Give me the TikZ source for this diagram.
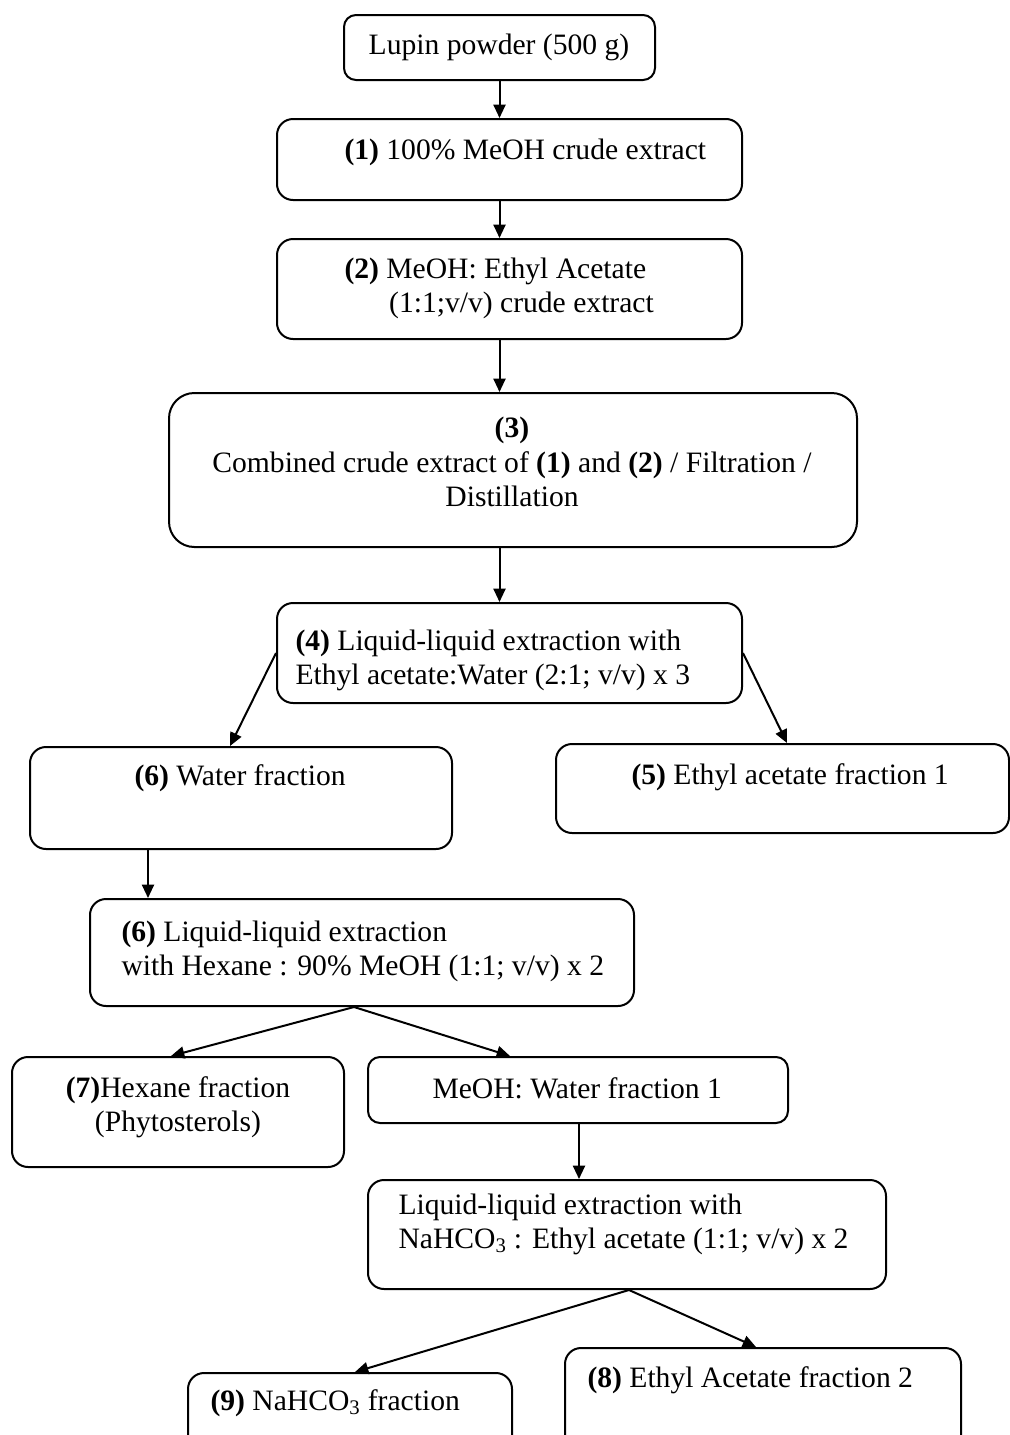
\documentclass[tikz,border=0pt]{standalone}
\usepackage{fontspec}
\setmainfont{Liberation Serif}
\usetikzlibrary{arrows.meta}

\tikzset{every picture/.style={line width=0.75pt}}
\tikzset{
  box/.style={draw, rounded corners=12pt, line width=1.5pt, inner sep=0pt},
  sz/.style 2 args={minimum width=#1*0.75pt, minimum height=#2*0.75pt},
  txt/.style={inner sep=0pt, font=\fontsize{22.2pt}{25.6pt}\selectfont},
  flow/.style={line width=1.5pt, -{Triangle[length=10pt,width=9pt]}}
}

\begin{document}
\begin{tikzpicture}[x=0.75pt,y=0.75pt,yscale=-1,xscale=1]
\useasboundingbox (0,0) rectangle (1010,1435);

%Rounded Rect: boxes
\node[box, sz={311}{65}, rounded corners=9pt] (lupin) at (499.5,47.5) {};
\node[box, sz={465}{81}] (ext1) at (509.5,159.5) {};
\node[box, sz={465}{100}] (ext2) at (509.5,289) {};
\node[box, sz={688}{154}, rounded corners=19pt] (comb) at (513,470) {};
\node[box, sz={465}{100}] (lle1) at (509.5,653) {};
\node[box, sz={422}{102}] (water) at (241,798) {};
\node[box, sz={453}{89}] (etac1) at (782.5,788.5) {};
\node[box, sz={544}{107}] (lle2) at (362,952.5) {};
\node[box, sz={332}{110}] (hex) at (178,1112) {};
\node[box, sz={420}{66}, rounded corners=9pt] (mewat) at (578,1090) {};
\node[box, sz={518}{109}] (lle3) at (627,1234.5) {};
\node[box, sz={324}{110}] (nahco) at (350,1428) {};
\node[box, sz={396}{110}] (etac2) at (763,1403) {};

%Text Node
\node[txt] (lupin-t) at (499,47) {Lupin powder (500 g)};
\node[txt, anchor=west] (ext1-t) at (344,152) {\textbf{(1)} 100\% MeOH crude extract};
\node[txt, anchor=west, align=left] (ext2-t) at (344,288.5) {\textbf{(2)} MeOH: Ethyl Acetate\\\hspace*{33.5pt}(1:1;v/v) crude extract};
\node[txt, align=center] (comb-t) at (512,462) {\textbf{(3)}\\Combined crude extract of \textbf{(1)} and \textbf{(2)} / Filtration /\\Distillation};
\node[txt, anchor=west, align=left] (lle1-t) at (295,660) {\textbf{(4)} Liquid-liquid extraction with\\Ethyl acetate:Water (2:1; v/v) x 3};
\node[txt, anchor=west] (water-t) at (134,778) {\textbf{(6)} Water fraction};
\node[txt, anchor=west] (etac1-t) at (631,777) {\textbf{(5)} Ethyl acetate fraction 1};
\node[txt, anchor=west, align=left] (lle2-t) at (121,951.5) {\textbf{(6)} Liquid-liquid extraction\\with Hexane : 90\% MeOH (1:1; v/v) x 2};
\node[txt, align=center] (hex-t) at (178,1107.5) {\textbf{(7)}Hexane fraction\\(Phytosterols)};
\node[txt, anchor=west] (mewat-t) at (432,1088) {MeOH: Water fraction 1};
\node[txt, anchor=west, align=left] (lle3-t) at (398,1224.5) {Liquid-liquid extraction with\\NaHCO\textsubscript{3} : Ethyl acetate (1:1; v/v) x 2};
\node[txt, anchor=west] (nahco-t) at (210,1403) {\textbf{(9)} NaHCO\textsubscript{3} fraction};
\node[txt, anchor=west] (etac2-t) at (587,1380) {\textbf{(8)} Ethyl Acetate fraction 2};

%Straight Lines with arrows
\draw[flow] (lupin.south) -- (lupin.south |- ext1.north);
\draw[flow] (ext1.south -| lupin.south) -- (ext2.north -| lupin.south);
\draw[flow] (ext2.south -| lupin.south) -- (comb.north -| lupin.south);
\draw[flow] (comb.south -| lupin.south) -- (lle1.north -| lupin.south);
\draw[flow] (lle1.west) -- (water.north -| 230,0);
\draw[flow] (lle1.east) -- (etac1.north -| 787,0);
\draw[flow] (water.south -| 148,0) -- (lle2.north -| 148,0);
\draw[flow] (lle2.south -| 354,0) -- (hex.north -| 171,0);
\draw[flow] (lle2.south -| 354,0) -- (mewat.north -| 510,0);
\draw[flow] (mewat.south -| 579,0) -- (lle3.north -| 579,0);
\draw[flow] (lle3.south -| 629,0) -- (nahco.north -| 355,0);
\draw[flow] (lle3.south -| 629,0) -- (etac2.north -| 756,0);

\end{tikzpicture}
\end{document}
